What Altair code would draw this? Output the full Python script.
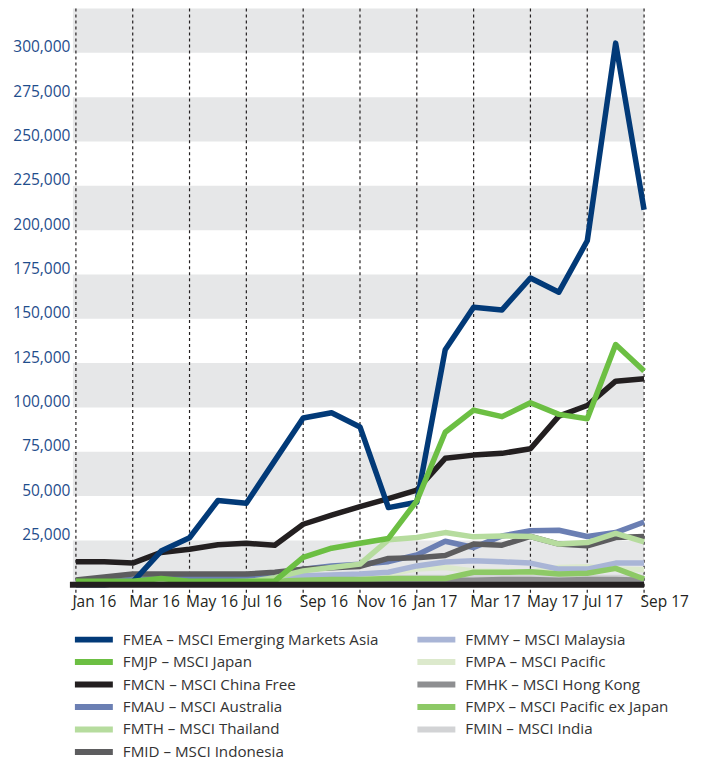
import altair as alt
import pandas as pd

# ---------------- data ----------------
months = ["Jan 16", "Feb 16", "Mar 16", "Apr 16", "May 16", "Jun 16", "Jul 16",
          "Aug 16", "Sep 16", "Oct 16", "Nov 16", "Dec 16", "Jan 17", "Feb 17",
          "Mar 17", "Apr 17", "May 17", "Jun 17", "Jul 17", "Aug 17", "Sep 17"]
tick_labels = ["Jan 16", "Mar 16", "May 16", "Jul 16", "Sep 16", "Nov 16",
               "Jan 17", "Mar 17", "May 17", "Jul 17", "Sep 17"]
y_ticks = [25000, 50000, 75000, 100000, 125000, 150000, 175000, 200000,
           225000, 250000, 275000, 300000]
band_starts = [0, 50000, 100000, 150000, 200000, 250000, 300000]

FMEA = [0, 0, 1500, 19000, 26500, 47500, 46000, 70000, 94000, 97000, 89000,
        43500, 46500, 132500, 156500, 155000, 173000, 165000, 194000, 305500, 211500]
FMJP = [2000, 2000, 2000, 3500, 2000, 2000, 2000, 2000, 15400, 20600, 23400,
        26100, 47300, 86000, 98500, 94800, 102600, 96100, 93600, 135500, 120500]
FMCN = [13000, 12900, 12200, 18200, 20000, 22500, 23400, 22300, 34100, 39200,
        44100, 48600, 53400, 71300, 73100, 74100, 76700, 95100, 101100, 114800, 116200]
FMAU = [1500, 2000, 3000, 3500, 4000, 4500, 5000, 5500, 8800, 10600, 11600,
        13000, 16800, 24500, 21000, 27500, 30400, 30700, 27200, 29400, 35400]
FMTH = [1000, 1000, 1500, 1500, 1500, 1500, 1500, 4000, 7800, 9700, 11600,
        25300, 26600, 29400, 27000, 27500, 27200, 22900, 23800, 28900, 24200]
FMID = [2600, 4300, 6000, 6000, 6000, 6000, 6000, 7000, 8800, 9500, 10300,
        14800, 15200, 16500, 22900, 22300, 27200, 22900, 21900, 26600, 27200]
FMMY = [2000, 2000, 2500, 2500, 2500, 3000, 3000, 3500, 5000, 5500, 6000,
        7000, 10600, 12800, 13500, 12900, 12200, 8800, 8800, 12200, 12200]
FMPA = [1500, 1500, 2000, 2000, 2000, 2000, 2500, 3000, 3500, 4000, 5000,
        6000, 8800, 9700, 7800, 7500, 7000, 9700, 10100, 8800, 8400]
FMHK = [2000, 2000, 2500, 2500, 2500, 2500, 2500, 2500, 2500, 2500, 2500,
        2500, 2500, 2500, 2500, 3000, 3000, 2500, 3000, 3000, 2500]
FMPX = [1500, 1500, 1500, 1500, 1500, 1500, 1500, 2000, 2500, 3000, 3000,
        3500, 3500, 3500, 7000, 7000, 7300, 6000, 6500, 9200, 3200]
FMIN = [2000, 2500, 3000, 3000, 3000, 3000, 3500, 4000, 4000, 4000, 4000,
        4000, 4000, 4000, 4000, 4000, 4000, 4000, 4000, 4000, 4000]

series = {"FMEA": FMEA, "FMJP": FMJP, "FMCN": FMCN, "FMAU": FMAU, "FMTH": FMTH,
          "FMID": FMID, "FMMY": FMMY, "FMPA": FMPA, "FMHK": FMHK, "FMPX": FMPX,
          "FMIN": FMIN}
legend_codes = ["FMEA", "FMJP", "FMCN", "FMAU", "FMTH", "FMID",
                "FMMY", "FMPA", "FMHK", "FMPX", "FMIN"]
legend_labels = ["FMEA – MSCI Emerging Markets Asia", "FMJP – MSCI Japan",
                 "FMCN – MSCI China Free", "FMAU – MSCI Australia",
                 "FMTH – MSCI Thailand", "FMID – MSCI Indonesia",
                 "FMMY – MSCI Malaysia", "FMPA – MSCI Pacific",
                 "FMHK – MSCI Hong Kong", "FMPX – MSCI Pacific ex Japan",
                 "FMIN – MSCI India"]
colors = ["#023a78", "#6cbf43", "#231f20", "#6b7fb3", "#b6dc9e", "#5d5d5f",
          "#a9b5d6", "#dce9cc", "#8e8f91", "#8dc966", "#d2d3d5"]
draw_order = ["FMIN", "FMHK", "FMPA", "FMMY", "FMPX", "FMAU", "FMID", "FMTH",
              "FMCN", "FMEA", "FMJP"]

# ---------------- frames ----------------
rows = []
for code, vals in series.items():
    for m, v in zip(months, vals):
        rows.append({"code": code, "month": m, "value": v})
df = pd.DataFrame(rows)

band_df = pd.DataFrame({"lo": band_starts, "hi": [b + 25000 for b in band_starts]})
tick_df = pd.DataFrame({"month": tick_labels})
leg_df = pd.DataFrame({"code": legend_codes, "label": legend_labels,
                       "col": [i // 6 for i in range(len(legend_codes))],
                       "row": [i % 6 for i in range(len(legend_codes))]})

W, H = 569, 577
FONT = "Open Sans"

xscale = alt.Scale(type="point", domain=months, padding=0)
xaxis = alt.Axis(values=tick_labels, labelAngle=0, labelAlign="left", labelOffset=-4,
                 labelPadding=10, domain=False, ticks=False, grid=False,
                 labelFont=FONT, labelFontSize=15.5, labelColor="#231f20", title=None)
yscale = alt.Scale(domain=[0, 325000], nice=False, zero=True)
yaxis = alt.Axis(values=y_ticks, labelExpr="format(datum.value, ',')",
                 domain=False, ticks=False, grid=False,
                 labelFont=FONT, labelFontSize=15.5, labelColor="#1f4d8c",
                 labelBaseline="alphabetic", labelOffset=-1, labelPadding=6, title=None)
color_scale = alt.Scale(domain=legend_codes, range=colors)

bands = alt.Chart(band_df).mark_rect(color="#e6e7e8").encode(
    y=alt.Y("lo:Q", scale=yscale, axis=yaxis), y2="hi:Q",
    x=alt.value(-3), x2=alt.value(W))

vlines = alt.Chart(tick_df).mark_rule(strokeDash=[3, 3], color="#231f20", strokeWidth=1.2).encode(
    x=alt.X("month:O", scale=xscale, axis=xaxis),
    y=alt.value(0), y2=alt.value(H + 13))

line_layers = []
for code in draw_order:
    line_layers.append(
        alt.Chart(df).transform_filter(alt.datum.code == code).mark_line(
            strokeWidth=5.5, strokeJoin="round").encode(
            x=alt.X("month:O", scale=xscale, axis=xaxis),
            y=alt.Y("value:Q", scale=yscale, axis=yaxis),
            color=alt.Color("code:N", scale=color_scale, legend=None)))

baseline = alt.Chart(pd.DataFrame({"v": [0]})).mark_rule(color="#231f20", strokeWidth=6).encode(
    y=alt.Y("v:Q", scale=yscale, axis=yaxis), x=alt.value(-6), x2=alt.value(W))

main = alt.layer(bands, vlines, *line_layers, baseline)

leg_base = alt.Chart(leg_df).transform_calculate(
    lx="datum.col * 343 - 1", lx2="datum.col * 343 + 37",
    tx="datum.col * 343 + 47", ly="632 + datum.row * 22.5")
leg_rules = leg_base.mark_rule(strokeWidth=6).encode(
    x=alt.X("lx:Q", scale=None, axis=None), x2="lx2:Q",
    y=alt.Y("ly:Q", scale=None, axis=None),
    color=alt.Color("code:N", scale=color_scale, legend=None))
leg_text = leg_base.mark_text(align="left", baseline="middle", font=FONT,
                              fontSize=15.2, color="#333333").encode(
    x=alt.X("tx:Q", scale=None, axis=None),
    y=alt.Y("ly:Q", scale=None, axis=None),
    text="label:N")
legend = alt.layer(leg_rules, leg_text)

chart = alt.layer(main, legend).resolve_scale(x="independent", y="independent").properties(
    width=W, height=H,
    padding={"left": 68, "top": 0, "right": 50, "bottom": 175},
    autosize=alt.AutoSizeParams(type="none"),
).configure_view(stroke=None)

chart.save("out.html", embed_options={"renderer": "svg", "actions": False})
